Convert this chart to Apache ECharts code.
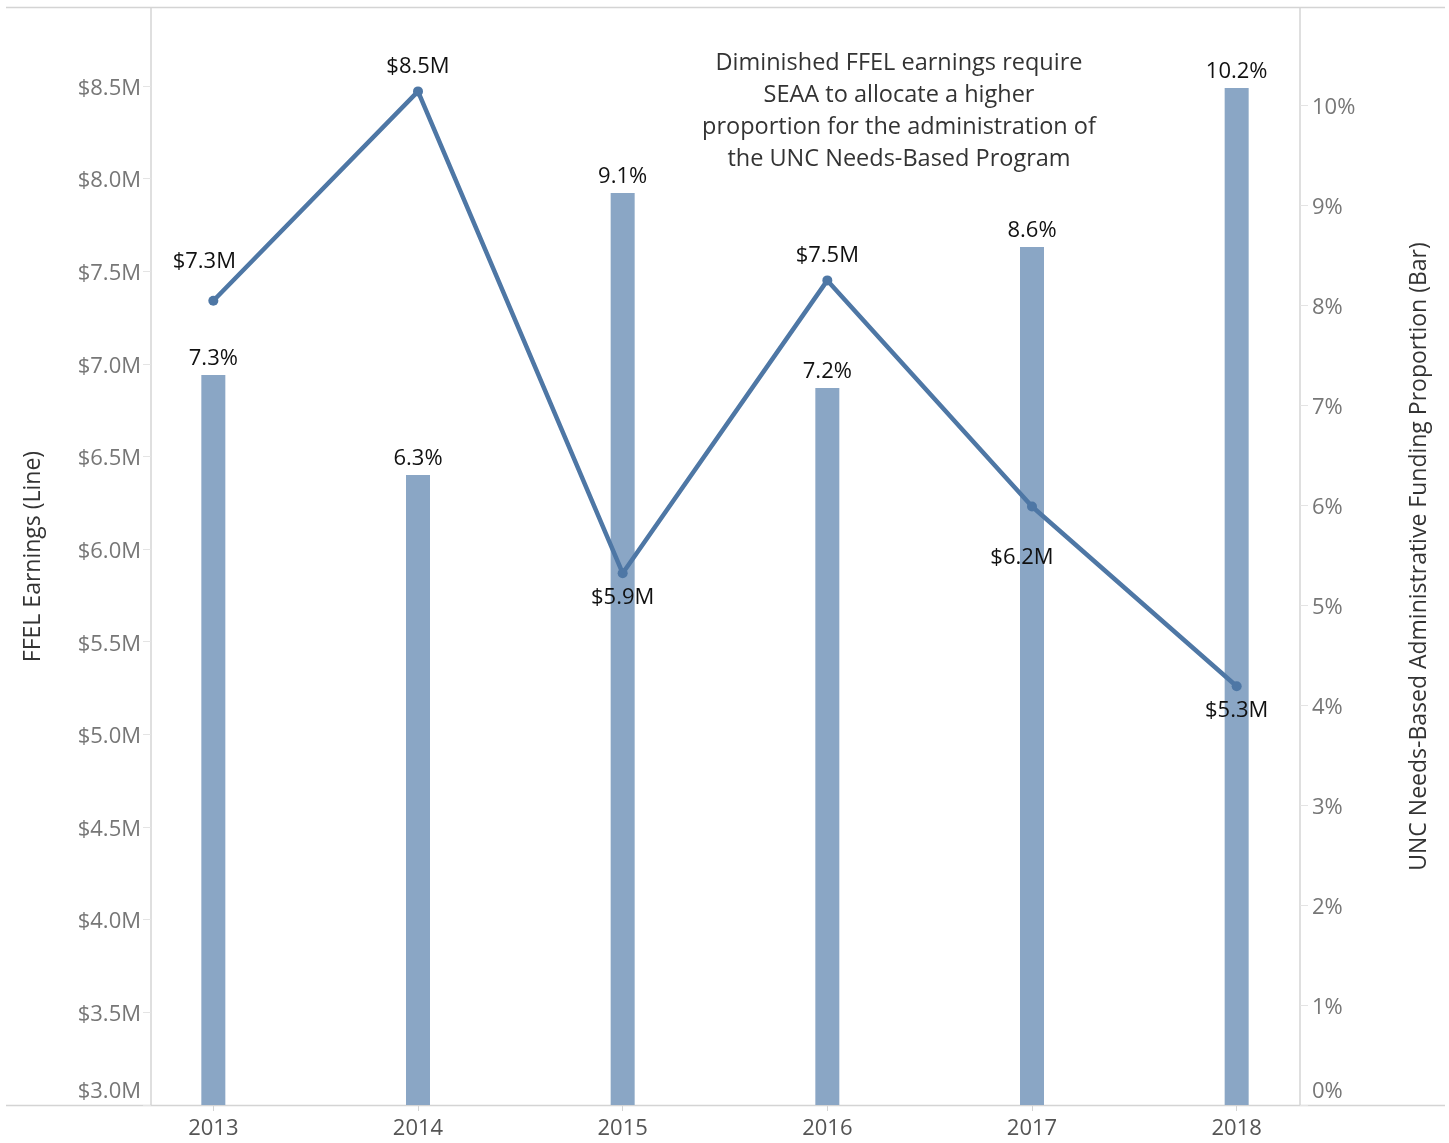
<!DOCTYPE html>
<html>
<head>
<meta charset="utf-8">
<script src="https://cdn.jsdelivr.net/npm/echarts@6/dist/echarts.min.js"></script>
<style>
html,body{margin:0;padding:0;background:#fff;}
#chart{width:1449px;height:1143px;}
</style>
</head>
<body>
<div id="chart"></div>
<script>
const years = ['2013','2014','2015','2016','2017','2018'];
const ffelEarnings = [7.34, 8.47, 5.87, 7.45, 6.23, 5.26];          // $M (line)
const fundingProportion = [7.30, 6.30, 9.12, 7.17, 8.58, 10.17];    // % (bar)
const annotation = 'Diminished FFEL earnings require\nSEAA to allocate a higher\nproportion for the administration of\nthe UNC Needs-Based Program';

const FONT = '"Open Sans", "Noto Sans", sans-serif';
const lineColor = '#4e77a5';
const barColor = '#8aa6c5';
const gridLine = '#d4d4d4';

// label placements for line points (pos, dx, dy)
const lineLabelPos = [
  ['top', -9, -14], ['top', 0, 0], ['bottom', 0, 0],
  ['top', 0, 0], ['bottom', -10, 26], ['bottom', 0, 0]
];

const chart = echarts.init(document.getElementById('chart'));
chart.setOption({
  backgroundColor: '#fff',
  animation: false,
  textStyle: { fontFamily: FONT },
  grid: { left: 111, right: 110, top: 8, bottom: 38, containLabel: false },
  xAxis: {
    type: 'category',
    data: years,
    boundaryGap: true,
    axisLine: { show: false },
    axisTick: { show: true, alignWithLabel: true, length: 6, lineStyle: { color: gridLine } },
    axisLabel: { color: '#555', fontSize: 22, margin: 13, fontFamily: FONT }
  },
  yAxis: [
    {
      type: 'value', position: 'left', offset: -40,
      min: 3, max: 8.92, interval: 0.5,
      name: 'FFEL Earnings (Line)', nameLocation: 'middle', nameGap: 106, nameRotate: 90,
      nameTextStyle: { color: '#333', fontSize: 23, fontFamily: FONT },
      axisLine: { show: true, lineStyle: { color: gridLine, width: 1.5 } },
      axisTick: { show: true, length: 8, lineStyle: { color: '#e4e4e4' } },
      splitLine: { show: false },
      axisLabel: {
        color: '#777', fontSize: 22, margin: 10, showMaxLabel: false, fontFamily: FONT,
        padding: [5, 0, 0, 0],
        formatter: v => v === 3 ? '{b|$' + v.toFixed(1) + 'M}' : '$' + v.toFixed(1) + 'M',
        rich: { b: { color: '#777', fontSize: 22, fontFamily: FONT, padding: [0, 0, 32, 0] } }
      }
    },
    {
      type: 'value', position: 'right', offset: -39,
      min: 0, max: 10.97, interval: 1,
      name: 'UNC Needs-Based Administrative Funding Proportion (Bar)', nameLocation: 'middle', nameGap: 108, nameRotate: 90,
      nameTextStyle: { color: '#333', fontSize: 23, fontFamily: FONT },
      axisLine: { show: true, lineStyle: { color: gridLine, width: 1.5 } },
      axisTick: { show: true, length: 8, lineStyle: { color: '#e4e4e4' } },
      splitLine: { show: false },
      axisLabel: {
        color: '#777', fontSize: 22, margin: 12, showMaxLabel: false, fontFamily: FONT,
        padding: [5, 0, 0, 0],
        formatter: v => v === 0 ? '{b|0%}' : v + '%',
        rich: { b: { color: '#777', fontSize: 22, fontFamily: FONT, padding: [0, 0, 32, 0] } }
      }
    }
  ],
  series: [
    {
      type: 'bar', yAxisIndex: 1, barWidth: 24, z: 1,
      data: fundingProportion,
      itemStyle: { color: barColor },
      label: {
        show: true, position: 'top', distance: 5, color: '#111', fontSize: 22, fontFamily: FONT,
        formatter: p => p.value.toFixed(1) + '%'
      }
    },
    {
      type: 'line', yAxisIndex: 0, z: 3,
      data: ffelEarnings.map((v, i) => ({
        value: v,
        label: { position: lineLabelPos[i][0], offset: [lineLabelPos[i][1], lineLabelPos[i][2]] }
      })),
      symbol: 'circle', symbolSize: 10, showAllSymbol: true,
      lineStyle: { color: lineColor, width: 4.5 },
      itemStyle: { color: lineColor },
      label: {
        show: true, distance: 9, color: '#111', fontSize: 22, fontFamily: FONT,
        formatter: p => '$' + p.value.toFixed(1) + 'M'
      }
    }
  ],
  graphic: [
    { type: 'line', shape: { x1: 6, y1: 7.5, x2: 1445, y2: 7.5 }, style: { stroke: gridLine, lineWidth: 1.5 }, z: 0 },
    { type: 'line', shape: { x1: 6, y1: 1105.5, x2: 1445, y2: 1105.5 }, style: { stroke: gridLine, lineWidth: 1.5 }, z: 0 },
    {
      type: 'text', x: 899, y: 47, z: 10,
      style: {
        text: annotation, textAlign: 'center', textVerticalAlign: 'top', fill: '#333',
        fontSize: 23.5, lineHeight: 32, fontFamily: FONT
      }
    }
  ]
});
</script>
</body>
</html>
